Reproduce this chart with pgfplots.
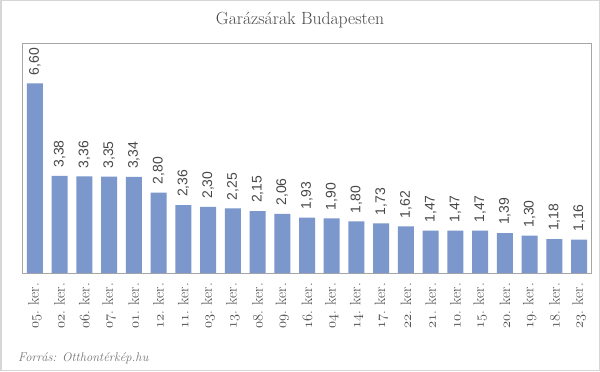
\documentclass[border=0pt]{standalone}
\usepackage{fontspec}
\usepackage{pgfplots}
\pgfplotsset{compat=1.18}
\newfontfamily\arial{Liberation Sans}
\definecolor{barblue}{HTML}{7B97CB}
\definecolor{txt}{HTML}{474747}
\definecolor{frame}{HTML}{D6D6D6}
\definecolor{axframe}{HTML}{A6A6A6}
\newcommand{\os}[1]{$\mathnormal{#1}$}
\begin{document}
\begin{tikzpicture}[x=1bp,y=1bp]
\useasboundingbox (0,0) rectangle (600,371);
\draw[frame, line width=1.5bp] (0.75,0.75) rectangle (599.25,370.25);
\begin{axis}[
  at={(22.5bp,98bp)}, anchor=south west,
  scale only axis, width=569bp, height=230bp,
  ybar, bar width=16bp,
  xmin=-0.5, xmax=22.5, ymin=0, ymax=8,
  axis line style={draw=axframe, line width=0.8bp},
  ytick=\empty,
  xtick=data, major tick length=0pt,
  xticklabels={\os{05}. ker., \os{02}. ker., \os{06}. ker., \os{07}. ker., \os{01}. ker., \os{12}. ker., \os{11}. ker., \os{03}. ker., \os{13}. ker., \os{08}. ker., \os{09}. ker., \os{16}. ker., \os{04}. ker., \os{14}. ker., \os{17}. ker., \os{22}. ker., \os{21}. ker., \os{10}. ker., \os{15}. ker., \os{20}. ker., \os{19}. ker., \os{18}. ker., \os{23}. ker.},
  xticklabel style={rotate=90, anchor=east, inner sep=0pt, font=\fontsize{15}{15}\selectfont, text=txt},
  xticklabel shift=10bp,
  clip=false,
  nodes near coords,
  point meta=y,
  nodes near coords style={rotate=90, anchor=west, inner sep=0pt, inner xsep=8bp, font=\arial\fontsize{14}{14}\selectfont, text=txt,
    /pgf/number format/.cd, fixed, zerofill, precision=2, use comma, assume math mode=true},
]
\addplot[fill=barblue, draw=none] coordinates {
(0,6.60) (1,3.38) (2,3.36) (3,3.35) (4,3.34) (5,2.80) (6,2.36) (7,2.30) (8,2.25) (9,2.15) (10,2.06) (11,1.93) (12,1.90) (13,1.80) (14,1.73) (15,1.62) (16,1.47) (17,1.47) (18,1.47) (19,1.39) (20,1.30) (21,1.18) (22,1.16)
};
\end{axis}
\node[text=txt, font=\fontsize{17.7}{18}\selectfont] at (300,350.5) {Garázsárak Budapesten};
\node[anchor=base west, inner sep=0pt, text=black!55, font=\itshape\fontsize{12.6}{13}\selectfont] at (18,10) {Forrás: Otthontérkép.hu};
\end{tikzpicture}
\end{document}
